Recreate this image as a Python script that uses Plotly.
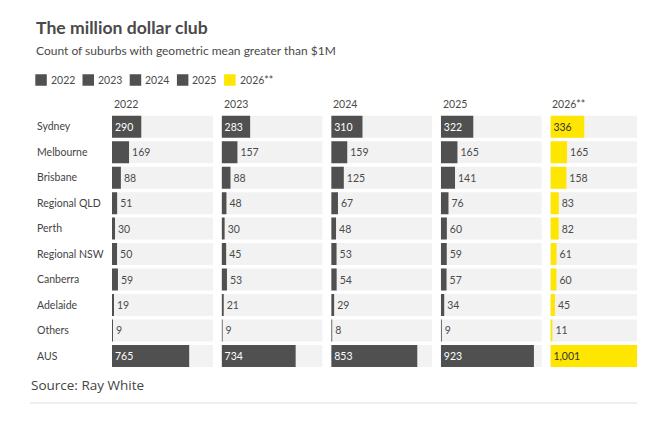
import plotly.graph_objects as go

# ---------------- data ----------------
regions = ["Sydney", "Melbourne", "Brisbane", "Regional QLD", "Perth",
           "Regional NSW", "Canberra", "Adelaide", "Others", "AUS"]
years = ["2022", "2023", "2024", "2025", "2026**"]
v2022 = [290, 169, 88, 51, 30, 50, 59, 19, 9, 765]
v2023 = [283, 157, 88, 48, 30, 45, 53, 21, 9, 734]
v2024 = [310, 159, 125, 67, 48, 53, 54, 29, 8, 853]
v2025 = [322, 165, 141, 76, 60, 59, 57, 34, 9, 923]
v2026 = [336, 165, 158, 83, 82, 61, 60, 45, 11, 1001]
series = [v2022, v2023, v2024, v2025, v2026]

# ---------------- style ----------------
OFF = 8                      # page body margin of the html page
W, H = 637, 398
DARK = "#505050"
YELLOW = "#FFE600"
TRACK = "#f2f2f2"
TXT = "#4a4a4a"
FONT = "Lato"
LBL = 10.5
bar_colors = [DARK, DARK, DARK, DARK, YELLOW]
inside_text_colors = ["white", "white", "white", "white", "#333333"]
INSIDE_MIN = 250

track_max = max(max(s) for s in series)

col_start = 112.0
col_step = 109.6
col_w = 101.0
y_top_px, y_bot_px = 114.0, 368.7


def fx(px):
    return (px - OFF) / W


def fy(px):
    return 1 - (px - OFF) / H


fig = go.Figure()
layout_axes = {}
for i, (yr, vals) in enumerate(zip(years, series)):
    ax = "x" if i == 0 else f"x{i+1}"
    left = col_start + i * col_step
    right = min(left + col_w, W + OFF)
    rng_max = track_max * (right - left) / col_w
    # background track
    fig.add_trace(go.Bar(
        x=[track_max] * len(regions), y=regions, orientation="h",
        xaxis=ax, yaxis="y", marker=dict(color=TRACK, line=dict(width=0)),
        hoverinfo="skip", showlegend=False))
    pos = ["inside" if v >= INSIDE_MIN else "outside" for v in vals]
    fig.add_trace(go.Bar(
        x=vals, y=regions, orientation="h", name=yr,
        xaxis=ax, yaxis="y",
        marker=dict(color=bar_colors[i], line=dict(width=0)),
        text=[f"{v:,}" for v in vals], textposition=pos,
        insidetextanchor="start",
        insidetextfont=dict(family=FONT, size=LBL, color=inside_text_colors[i]),
        outsidetextfont=dict(family=FONT, size=LBL, color=TXT),
        textangle=0, cliponaxis=True, showlegend=False))
    key = "xaxis" if i == 0 else f"xaxis{i+1}"
    layout_axes[key] = dict(domain=[fx(left), fx(right)], range=[0, rng_max],
                            visible=False, fixedrange=True, anchor="y")
    # column header
    fig.add_annotation(text=yr, xref=f"{ax} domain", yref="paper", x=0, y=fy(104),
                       xanchor="left", yanchor="middle", showarrow=False,
                       font=dict(family=FONT, size=LBL, color=TXT))

fig.update_layout(**layout_axes)
fig.update_layout(
    width=W, height=H, margin=dict(l=0, r=0, t=0, b=0),
    paper_bgcolor="white", plot_bgcolor="white",
    barmode="overlay", bargap=0.137,
    font=dict(family=FONT, color=TXT),
    yaxis=dict(domain=[fy(y_bot_px), fy(y_top_px)], autorange="reversed",
               anchor="free", position=fx(33), ticklabelposition="inside",
               ticks="", showline=False, showgrid=False, zeroline=False,
               tickfont=dict(family=FONT, size=LBL, color="#444444"),
               fixedrange=True),
    uniformtext=dict(minsize=LBL, mode="show"),
)

# title / subtitle
fig.add_annotation(text="<b>The million dollar club</b>", xref="paper", yref="paper",
                   x=fx(34), y=fy(27), xanchor="left", yanchor="middle", showarrow=False,
                   font=dict(family=FONT, size=17.6, color="#4a4a4a"))
fig.add_annotation(text="Count of suburbs with geometric mean greater than $1M",
                   xref="paper", yref="paper", x=fx(34), y=fy(50), xanchor="left",
                   yanchor="middle", showarrow=False,
                   font=dict(family=FONT, size=12.0, color="#4a4a4a"))

# legend (manual)
leg_x0, leg_step, sq = 35.3, 47.2, 11.5
for i, yr in enumerate(years):
    x0 = leg_x0 + i * leg_step
    fig.add_shape(type="rect", xref="paper", yref="paper",
                  x0=fx(x0), x1=fx(x0 + sq), y0=fy(80 + sq / 2), y1=fy(80 - sq / 2),
                  fillcolor=bar_colors[i], line=dict(width=0))
    fig.add_annotation(text=yr, xref="paper", yref="paper", x=fx(x0 + sq + 2),
                       y=fy(80), xanchor="left", yanchor="middle", showarrow=False,
                       font=dict(family=FONT, size=10.5, color=TXT))

# source + rule
fig.add_annotation(text="Source: Ray White", xref="paper", yref="paper", x=fx(29),
                   y=fy(385), xanchor="left", yanchor="middle", showarrow=False,
                   font=dict(family="Open Sans", size=13.5, color="#444444"))
fig.add_shape(type="line", xref="paper", yref="paper", x0=fx(30), x1=1,
              y0=fy(403), y1=fy(403), line=dict(color="#dddddd", width=1))

fig.write_html("out.html")
